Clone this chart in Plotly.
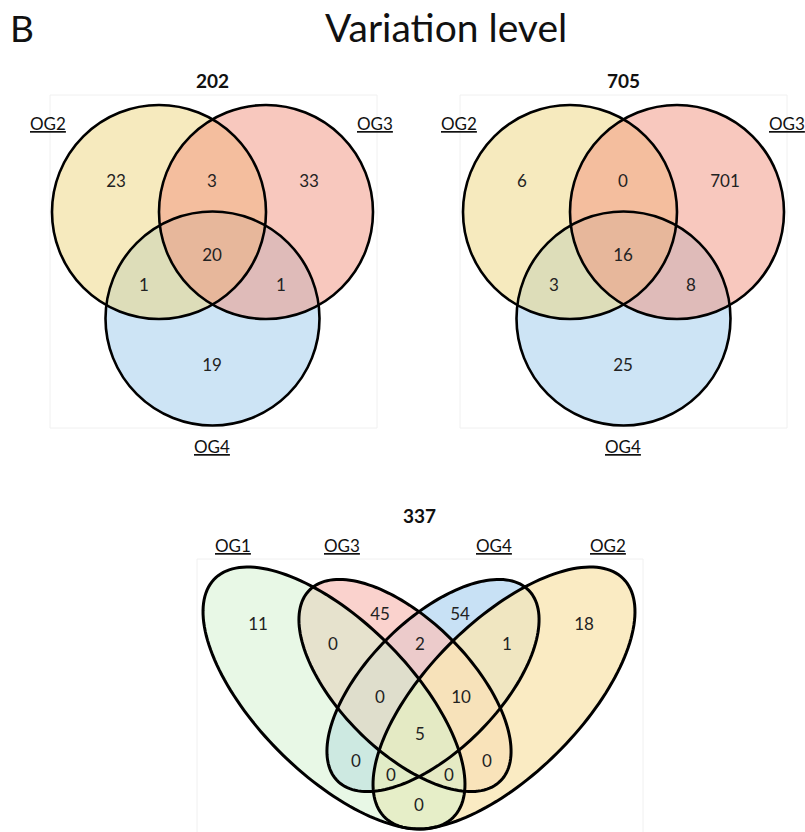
import numpy as np
import plotly.graph_objects as go

W, H = 805, 832

# ---------------- data ----------------
panel_letter = "B"
main_title = "Variation level"

# Venn 1 (3 sets)
v1_total = "202"
v1_sets = ["OG2", "OG3", "OG4"]
v1_regions = ["OG2", "OG3", "OG4", "OG2&OG3", "OG2&OG4", "OG3&OG4", "OG2&OG3&OG4"]
v1_counts = [23, 33, 19, 3, 1, 1, 20]

# Venn 2 (3 sets)
v2_total = "705"
v2_sets = ["OG2", "OG3", "OG4"]
v2_regions = ["OG2", "OG3", "OG4", "OG2&OG3", "OG2&OG4", "OG3&OG4", "OG2&OG3&OG4"]
v2_counts = [6, 701, 25, 0, 3, 8, 16]

# Venn 3 (4 sets)
v3_total = "337"
v3_sets = ["OG1", "OG3", "OG4", "OG2"]
v3_regions = ["OG1", "OG3", "OG4", "OG2",
              "OG1&OG3", "OG3&OG4", "OG4&OG2",
              "OG1&OG3&OG4", "OG3&OG4&OG2", "OG1&OG3&OG4&OG2",
              "OG1&OG4", "OG1&OG4&OG2", "OG1&OG3&OG2", "OG3&OG2", "OG1&OG2"]
v3_counts = [11, 45, 54, 18, 0, 2, 1, 0, 10, 5, 0, 0, 0, 0, 0]

# ---------------- layout (pixel geometry) ----------------
FONT = "Lato, 'Open Sans', sans-serif"

def circle_geom(cx):
    return {"OG2": (cx - 53.5, 212, 107), "OG3": (cx + 53.5, 212, 107), "OG4": (cx, 318.5, 107)}

v1_geom = circle_geom(212.5)
v2_geom = circle_geom(623.5)

v1_pos = {"OG2": (116, 183), "OG3": (309, 183), "OG4": (212, 367), "OG2&OG3": (212, 183),
          "OG2&OG4": (144, 287), "OG3&OG4": (281, 287), "OG2&OG3&OG4": (212, 257)}
v2_pos = {"OG2": (522, 183), "OG3": (725, 183), "OG4": (623, 367), "OG2&OG3": (623, 183),
          "OG2&OG4": (554, 287), "OG3&OG4": (691, 287), "OG2&OG3&OG4": (623, 257)}
v1_lab = {"OG2": (48, 123), "OG3": (375, 123), "OG4": (212, 446)}
v2_lab = {"OG2": (459, 123), "OG3": (787, 123), "OG4": (623, 446)}

# 4-set ellipses: cx, cy, a, b, angle
v3_geom = {"OG1": (334, 698, 168.7, 76.5, 45), "OG2": (504, 698, 168.7, 76.5, -45),
           "OG3": (405, 685.5, 135, 65.4, 45), "OG4": (433, 685.5, 135, 65.4, -45)}
v3_pos = {"OG1": (258, 626), "OG3": (380, 616), "OG4": (460, 616), "OG2": (584, 626),
          "OG1&OG3": (333, 646), "OG3&OG4": (420, 646), "OG4&OG2": (507, 646),
          "OG1&OG3&OG4": (380, 699), "OG3&OG4&OG2": (461, 699), "OG1&OG3&OG4&OG2": (420, 736),
          "OG1&OG4": (356, 763), "OG1&OG4&OG2": (391, 777), "OG1&OG3&OG2": (449, 777),
          "OG3&OG2": (487, 763), "OG1&OG2": (419, 807)}
v3_lab = {"OG1": (233, 545), "OG3": (342, 545), "OG4": (494, 545), "OG2": (608, 545)}

col3 = {"OG2": "rgb(237,213,125)", "OG3": "rgb(241,145,125)", "OG4": "rgb(155,201,235)"}
alpha3 = {"OG2": 0.5, "OG3": 0.5, "OG4": 0.5}
order3 = ["OG4", "OG2", "OG3"]
col4 = {"OG1": "rgb(209,241,205)", "OG2": "rgb(249,230,182)",
        "OG3": "rgb(248,195,188)", "OG4": "rgb(200,225,245)"}
alpha4 = {"OG1": 0.5, "OG2": 0.82, "OG3": 0.75, "OG4": 1.0}
order4 = ["OG4", "OG3", "OG2", "OG1"]


def ellipse_path(cx, cy, a, b, ang, n=160):
    t = np.linspace(0, 2 * np.pi, n)
    th = np.deg2rad(ang)
    x = cx + a * np.cos(t) * np.cos(th) - b * np.sin(t) * np.sin(th)
    y = cy + a * np.cos(t) * np.sin(th) + b * np.sin(t) * np.cos(th)
    return "M " + " L ".join(f"{xi:.2f},{yi:.2f}" for xi, yi in zip(x, y)) + " Z"


fig = go.Figure()
shapes = []

# faint frames
for x0, y0, x1, y1 in [(50, 95, 377, 428), (460, 95, 787, 428), (197, 559, 643, 840)]:
    shapes.append(dict(type="rect", xref="x", yref="y", x0=x0, y0=y0, x1=x1, y1=y1,
                       line=dict(color="#f0f0f0", width=1), fillcolor="rgba(0,0,0,0)", layer="below"))

# 3-set fills then outlines
for geom in (v1_geom, v2_geom):
    for s in order3:
        cx, cy, r = geom[s]
        shapes.append(dict(type="circle", xref="x", yref="y", x0=cx - r, y0=cy - r, x1=cx + r, y1=cy + r,
                           fillcolor=col3[s], opacity=alpha3[s], line=dict(width=0), layer="below"))
    for s in order3:
        cx, cy, r = geom[s]
        shapes.append(dict(type="circle", xref="x", yref="y", x0=cx - r, y0=cy - r, x1=cx + r, y1=cy + r,
                           fillcolor="rgba(0,0,0,0)", line=dict(color="black", width=2.6), layer="below"))

# 4-set fills then outlines
for s in order4:
    shapes.append(dict(type="path", xref="x", yref="y", path=ellipse_path(*v3_geom[s]),
                       fillcolor=col4[s], opacity=alpha4[s], line=dict(width=0), layer="below"))
for s in order4:
    shapes.append(dict(type="path", xref="x", yref="y", path=ellipse_path(*v3_geom[s]),
                       fillcolor="rgba(0,0,0,0)", line=dict(color="black", width=3), layer="below"))

# region counts as text traces
for regions, counts, pos in ((v1_regions, v1_counts, v1_pos), (v2_regions, v2_counts, v2_pos),
                             (v3_regions, v3_counts, v3_pos)):
    fig.add_trace(go.Scatter(
        x=[pos[r][0] for r in regions], y=[pos[r][1] for r in regions],
        text=[str(c) for c in counts], mode="text", hoverinfo="skip",
        textfont=dict(family=FONT, size=17, color="#222222"), showlegend=False))

annotations = []
# totals
for txt, x, y in ((v1_total, 212, 80), (v2_total, 623, 80), (v3_total, 419, 515)):
    annotations.append(dict(x=x, y=y, xref="x", yref="y", text=f"<b>{txt}</b>", showarrow=False,
                            font=dict(family=FONT, size=19, color="#111111")))
# set labels
for sets, lab in ((v1_sets, v1_lab), (v2_sets, v2_lab), (v3_sets, v3_lab)):
    for s in sets:
        annotations.append(dict(x=lab[s][0], y=lab[s][1], xref="x", yref="y", text=s, showarrow=False,
                                font=dict(family=FONT, size=17, color="#111111", lineposition="under")))
annotations.append(dict(x=22, y=27, xref="x", yref="y", text=panel_letter, showarrow=False,
                        font=dict(family=FONT, size=37, color="#111111")))
annotations.append(dict(x=446, y=27, xref="x", yref="y", text=main_title, showarrow=False,
                        font=dict(family=FONT, size=39, color="#111111")))

fig.update_layout(
    width=W, height=H, margin=dict(l=0, r=0, t=0, b=0),
    paper_bgcolor="white", plot_bgcolor="white",
    xaxis=dict(range=[0, W], visible=False, fixedrange=True),
    yaxis=dict(range=[H, 0], visible=False, fixedrange=True),
    shapes=shapes, annotations=annotations, showlegend=False,
)

fig.write_html("out.html", config={"displayModeBar": False},
               post_script="document.body.style.margin='0';document.body.style.overflow='hidden';")
